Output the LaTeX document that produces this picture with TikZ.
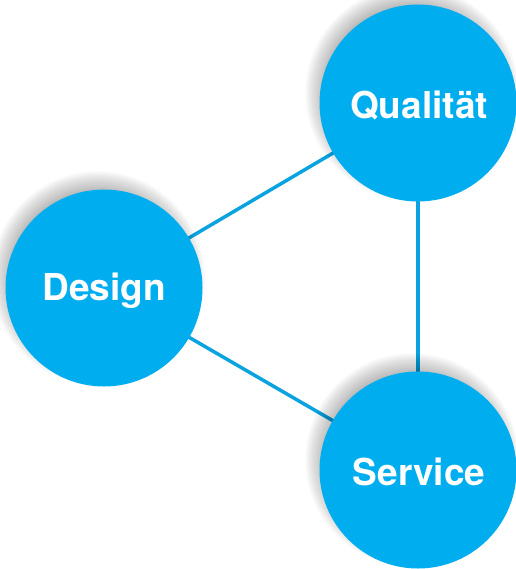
\documentclass[tikz,border=0pt]{standalone}
\usepackage{fontspec}
\setmainfont{TeX Gyre Heros}
\definecolor{cyanfill}{HTML}{00AEEF}
\definecolor{linecol}{HTML}{0AA3E0}
\tikzset{
  bubble/.style={circle, fill=cyanfill, minimum size=197pt, inner sep=0pt},
  bubbletext/.style={text=white, inner sep=0pt, font=\fontsize{37}{42}\selectfont\bfseries},
  link/.style={draw=linecol, line width=3.5pt}
}
\newcommand{\softshadow}[2]{%
  \foreach \k in {0,...,16}{
    \fill[black, opacity=0.018] (#1) ++(-6pt,10pt) circle ({#2+\k*1.3});
  }%
}
\begin{document}
\begin{tikzpicture}[x=1pt,y=-1pt]
\useasboundingbox (0,0) rectangle (515,569);
\coordinate (cq) at (418,103);
\coordinate (cd) at (104,288);
\coordinate (cs) at (418,470);
\draw[link] (cd) -- (cq);
\draw[link] (cd) -- (cs);
\draw[link] (cq) -- (cs);
\softshadow{cd}{86}
\softshadow{cq}{86}
\softshadow{cs}{86}
\node[bubble] (q) at (cq) {};
\node[bubble] (d) at (cd) {};
\node[bubble] (s) at (cs) {};
\node[bubbletext] (tq) at (419,106) {Qualität};
\node[bubbletext] (td) at (104,291) {Design};
\node[bubbletext] (ts) at (419,472) {Service};
\end{tikzpicture}
\end{document}
